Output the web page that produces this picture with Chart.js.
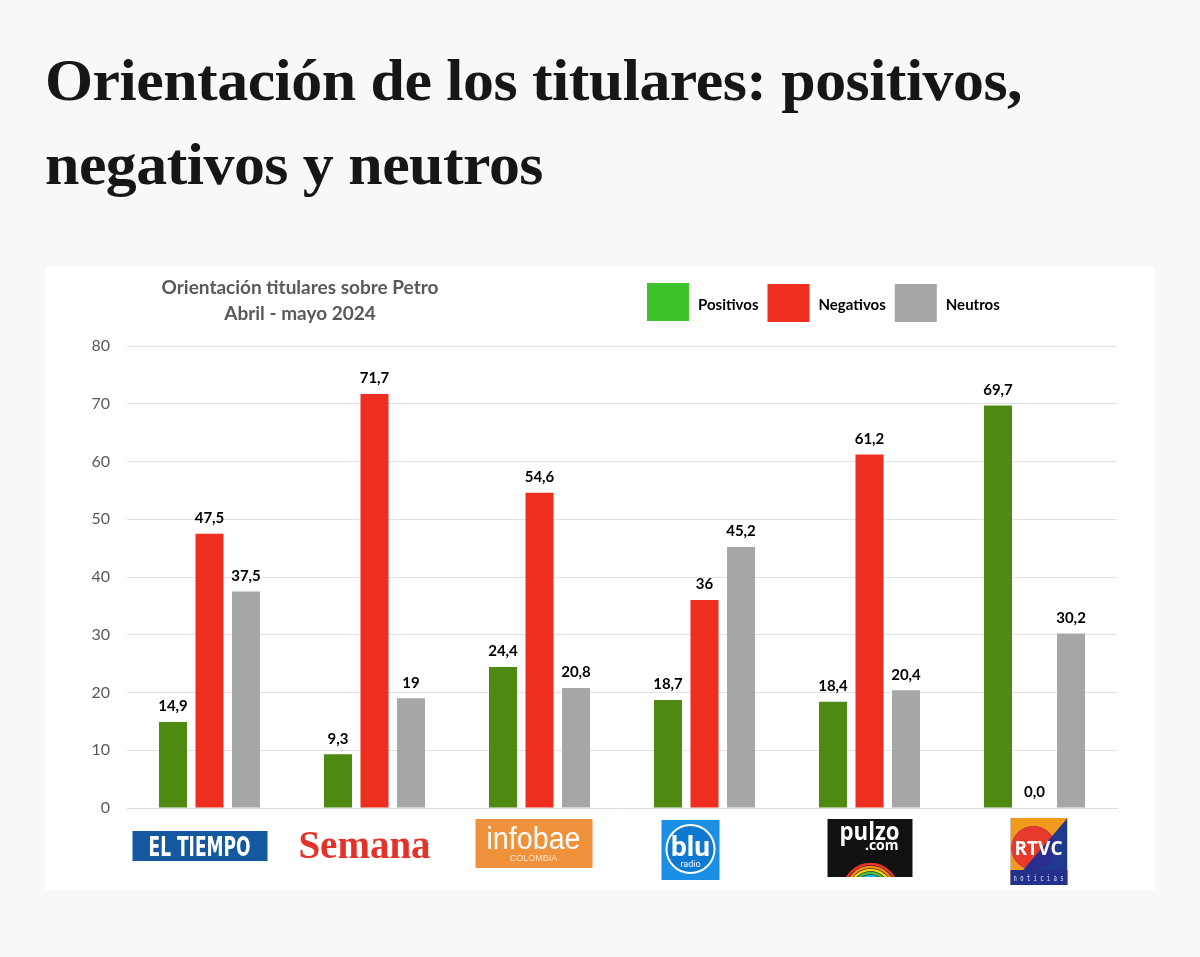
<!DOCTYPE html>
<html lang="es">
<head>
<meta charset="UTF-8">
<title>Orientación de los titulares</title>
<script src="https://cdn.jsdelivr.net/npm/chart.js@4"></script>
<style>
  * { margin: 0; padding: 0; box-sizing: border-box; }
  html, body { width: 1200px; height: 957px; background: #f8f8f8; overflow: hidden; }
  h1 { position: absolute; left: 45px; top: 38px; font-family: 'Liberation Serif', serif; font-weight: 700;
       font-size: 60px; line-height: 84px; color: #161616; letter-spacing: -0.5px; white-space: nowrap; }
  h1 span { display: block; transform-origin: 0 0; }
  .panel { position: absolute; left: 45px; top: 267px; width: 1110px; height: 623px; background: #fff; }
</style>
</head>
<body>
<h1><span id="l1">Orientación de los titulares: positivos,</span><span id="l2">negativos y neutros</span></h1>
<div class="panel"><canvas id="chart"></canvas></div>
<script>
const medios = ['El Tiempo', 'Semana', 'Infobae', 'Blu Radio', 'Pulzo', 'RTVC']
const positivos = [14.9, 9.3, 24.4, 18.7, 18.4, 69.7]
const negativos = [47.5, 71.7, 54.6, 36, 61.2, 0]
const neutros = [37.5, 19, 20.8, 45.2, 20.4, 30.2]
const yTicks = [0, 10, 20, 30, 40, 50, 60, 70, 80]
const tituloGrafico = ['Orientación titulares sobre Petro', 'Abril - mayo 2024']

// headline: squeeze the serif to the condensed width of the original
const l1 = document.getElementById('l1'), l2 = document.getElementById('l2')
const sx = 977 / l1.getBoundingClientRect().width
l1.style.transform = l2.style.transform = `scaleX(${sx})`

const fmt = v => (Number.isInteger(v) && v !== 0) ? String(v) : v.toFixed(1).replace('.', ',')
const legendColors = ['#3cc22a', '#ee2e1e', '#a6a6a6']

const valueLabels = {
  id: 'valueLabels',
  afterDatasetsDraw(chart) {
    const { ctx } = chart
    ctx.save()
    ctx.font = 'bold 15px Lato, sans-serif'
    ctx.fillStyle = '#000'
    ctx.textAlign = 'center'
    ctx.textBaseline = 'bottom'
    chart.data.datasets.forEach((ds, i) => {
      chart.getDatasetMeta(i).data.forEach((bar, j) => {
        ctx.fillText(fmt(ds.data[j]), bar.x, bar.y - 8)
      })
    })
    ctx.restore()
  }
}

const header = {
  id: 'header',
  afterDraw(chart) {
    const { ctx } = chart
    ctx.save()
    ctx.fillStyle = '#595959'
    ctx.font = 'bold 19px Lato, sans-serif'
    ctx.textAlign = 'center'
    ctx.textBaseline = 'alphabetic'
    ctx.fillText(tituloGrafico[0], 255, 27)
    ctx.fillText(tituloGrafico[1], 255, 53)
    // legend
    let x = 602
    ctx.font = 'bold 15px Lato, sans-serif'
    ctx.textAlign = 'left'
    ctx.textBaseline = 'middle'
    chart.data.datasets.forEach((ds, i) => {
      ctx.fillStyle = legendColors[i]
      ctx.fillRect(x, 16 + (i ? 1 : 0), 42, 38)
      x += 42 + 9
      ctx.fillStyle = '#000'
      ctx.fillText(ds.label, x, 38)
      x += ctx.measureText(ds.label).width + 9
    })
    ctx.restore()
  }
}

function rr(ctx, x, y, w, h, c) { ctx.fillStyle = c; ctx.fillRect(x, y, w, h) }

const logos = [
  // El Tiempo
  (ctx, cx) => {
    const x = cx - 77, y = 564
    rr(ctx, x, y, 135, 30, '#14589f')
    ctx.fillStyle = '#fff'
    ctx.font = 'bold 26px "Liberation Sans Narrow", "DejaVu Sans Condensed", sans-serif'
    ctx.textAlign = 'center'; ctx.textBaseline = 'alphabetic'
    ctx.fillText('EL TIEMPO', x + 67, y + 25, 102)
  },
  // Semana
  (ctx, cx) => {
    ctx.fillStyle = '#e4322b'
    ctx.font = 'bold 39px "Liberation Serif", serif'
    ctx.textAlign = 'center'; ctx.textBaseline = 'alphabetic'
    ctx.fillText('Semana', cx - 10, 591, 134)
  },
  // Infobae
  (ctx, cx) => {
    const x = cx - 64, y = 552
    rr(ctx, x, y, 117, 49, '#f0923b')
    ctx.fillStyle = '#fff'
    ctx.textAlign = 'center'; ctx.textBaseline = 'alphabetic'
    ctx.font = '31px "Liberation Sans", Arial, sans-serif'
    ctx.fillText('infobae', x + 58, y + 30, 94)
    ctx.font = '9px "Liberation Sans", Arial, sans-serif'
    ctx.fillStyle = '#fde6cc'
    ctx.fillText('COLOMBIA', x + 58, y + 42)
  },
  // Blu Radio
  (ctx, cx) => {
    const x = cx - 43, y = 553
    rr(ctx, x, y, 58, 60, '#1b8fe6')
    const ccx = x + 29, ccy = y + 29
    ctx.fillStyle = '#0f78cf'
    ctx.beginPath(); ctx.arc(ccx, ccy, 24, 0, Math.PI * 2); ctx.fill()
    ctx.strokeStyle = '#ffffff'; ctx.lineWidth = 2
    ctx.beginPath(); ctx.arc(ccx, ccy, 24, 0, Math.PI * 2); ctx.stroke()
    ctx.fillStyle = '#fff'
    ctx.textAlign = 'center'; ctx.textBaseline = 'alphabetic'
    ctx.font = 'bold 28px Roboto, sans-serif'
    ctx.fillText('blu', ccx, ccy + 7, 40)
    ctx.font = '9px Roboto, sans-serif'
    ctx.fillText('radio', ccx, ccy + 18)
  },
  // Pulzo
  (ctx, cx) => {
    const x = cx - 42, y = 552
    rr(ctx, x, y, 85, 58, '#111')
    ctx.save()
    ctx.beginPath(); ctx.rect(x, y, 85, 58); ctx.clip()
    const arcs = ['#e8322c', '#f28a1e', '#f6d31c', '#4cb848', '#1fb5d6', '#2c5fb8', '#7b3fa0', '#111']
    arcs.forEach((c, i) => {
      ctx.strokeStyle = c; ctx.lineWidth = 2.5
      ctx.beginPath(); ctx.arc(x + 43, y + 72, 27 - i * 3, Math.PI, 2 * Math.PI); ctx.stroke()
    })
    ctx.restore()
    ctx.fillStyle = '#fff'
    ctx.textAlign = 'center'; ctx.textBaseline = 'alphabetic'
    ctx.font = 'bold 25px "Open Sans", sans-serif'
    ctx.fillText('pulzo', x + 42, y + 21, 60)
    ctx.font = 'bold 14px "Open Sans", sans-serif'
    ctx.textAlign = 'right'
    ctx.fillText('.com', x + 71, y + 31)
  },
  // RTVC
  (ctx, cx) => {
    const x = cx - 24, y = 551
    ctx.save()
    ctx.beginPath(); ctx.rect(x, y, 57, 67); ctx.clip()
    rr(ctx, x, y, 57, 67, '#1f3a8c')
    ctx.fillStyle = '#f29a1e'
    ctx.beginPath(); ctx.moveTo(x, y); ctx.lineTo(x + 57, y); ctx.lineTo(x, y + 67); ctx.closePath(); ctx.fill()
    const ccx = x + 23, ccy = y + 30
    ctx.beginPath(); ctx.arc(ccx, ccy, 22, 0, Math.PI * 2); ctx.clip()
    rr(ctx, x, y, 57, 67, '#2a2c8e')
    ctx.fillStyle = '#e83a2b'
    ctx.beginPath(); ctx.moveTo(x, y); ctx.lineTo(x + 57, y); ctx.lineTo(x, y + 67); ctx.closePath(); ctx.fill()
    ctx.restore()
    rr(ctx, x, y + 52, 57, 15, '#23318a')
    ctx.fillStyle = '#fff'
    ctx.textAlign = 'center'; ctx.textBaseline = 'alphabetic'
    ctx.font = 'bold 19px "Open Sans", sans-serif'
    ctx.fillText('RTVC', x + 28, y + 37, 52)
    ctx.font = '8px "DejaVu Sans Mono", monospace'
    ctx.fillStyle = '#dfe4ff'
    ctx.fillText('n o t i c i a s', x + 28, y + 63, 50)
  }
]

const logoPlugin = {
  id: 'logoPlugin',
  afterDraw(chart) {
    const { ctx } = chart
    const xs = chart.scales.x
    ctx.save()
    medios.forEach((m, i) => logos[i](ctx, xs.getPixelForValue(i)))
    ctx.restore()
  }
}

const common = { categoryPercentage: 0.664, barPercentage: 0.767 }

new Chart(document.getElementById('chart'), {
  type: 'bar',
  data: {
    labels: medios,
    datasets: [
      { label: 'Positivos', data: positivos, backgroundColor: '#4e8a12', ...common },
      { label: 'Negativos', data: negativos, backgroundColor: '#ee2e1e', ...common },
      { label: 'Neutros', data: neutros, backgroundColor: '#a6a6a6', ...common }
    ]
  },
  options: {
    responsive: true,
    maintainAspectRatio: false,
    animation: false,
    layout: { padding: { top: 79, right: 38, left: 0, bottom: 0 } },
    plugins: { legend: { display: false }, title: { display: false }, tooltip: { enabled: false } },
    scales: {
      x: {
        grid: { display: false },
        border: { display: true, color: '#d9d9d9' },
        ticks: { display: false },
        afterFit: s => { s.height = 82 }
      },
      y: {
        min: 0, max: 80,
        afterBuildTicks: s => { s.ticks = yTicks.map(v => ({ value: v })) },
        grid: { color: '#e2e2e2', drawTicks: false },
        border: { display: false },
        ticks: { color: '#595959', font: { family: 'Lato, sans-serif', size: 16 }, padding: 17 },
        afterFit: s => { s.width = 82 }
      }
    }
  },
  plugins: [valueLabels, header, logoPlugin]
})
</script>
</body>
</html>
